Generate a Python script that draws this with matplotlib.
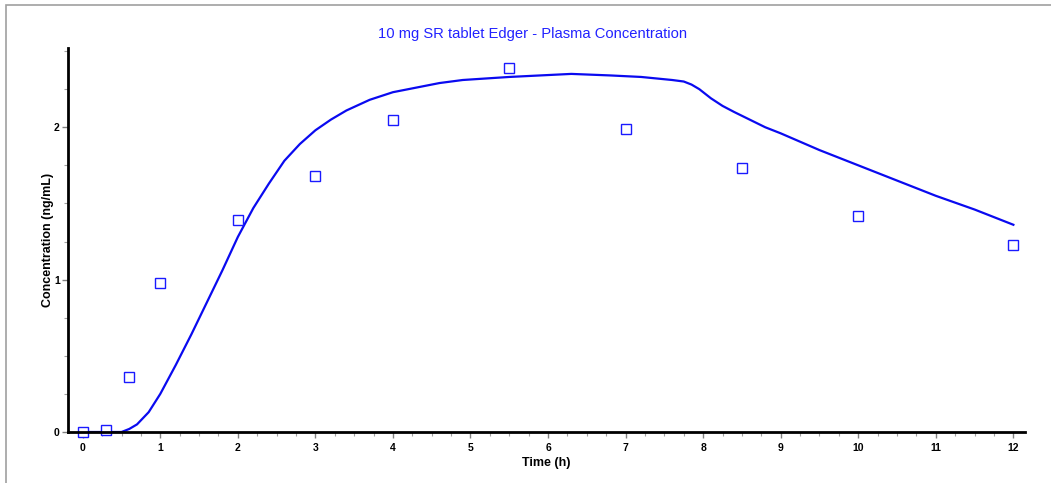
import matplotlib.pyplot as plt
from matplotlib.patches import Rectangle
from matplotlib.ticker import MultipleLocator

plt.rcParams['font.family'] = ['Liberation Sans', 'DejaVu Sans']

# Observed plasma concentrations
obs_time = [0, 0.3, 0.6, 1, 2, 3, 4, 5.5, 7, 8.5, 10, 12]
obs_conc = [0, 0.01, 0.36, 0.98, 1.39, 1.68, 2.05, 2.39, 1.99, 1.73, 1.42, 1.23]

# Simulated profile
sim_time = [0, 0.5, 0.6, 0.7, 0.85, 1.0, 1.2, 1.4, 1.6, 1.8, 2.0, 2.2, 2.4, 2.6,
            2.8, 3.0, 3.2, 3.4, 3.7, 4.0, 4.3, 4.6, 4.9, 5.2, 5.5, 5.9, 6.3, 6.8,
            7.2, 7.6, 7.75, 7.85, 7.95, 8.1, 8.25, 8.4, 8.6, 8.8, 9.0, 9.5, 10.0,
            10.5, 11.0, 11.5, 12.0]
sim_conc = [0, 0, 0.02, 0.05, 0.13, 0.25, 0.44, 0.64, 0.85, 1.06, 1.28, 1.47, 1.63, 1.78,
            1.89, 1.98, 2.05, 2.11, 2.18, 2.23, 2.26, 2.29, 2.31, 2.32, 2.33, 2.34, 2.35, 2.34,
            2.33, 2.31, 2.30, 2.28, 2.25, 2.19, 2.14, 2.10, 2.05, 2.00, 1.96, 1.85, 1.75,
            1.65, 1.55, 1.46, 1.36]

fig = plt.figure(figsize=(10.51, 4.83), dpi=100)
fig.patches.append(Rectangle((6 / 1051, -0.05), 1.1, 1 - 5 / 483 + 0.05,
                             transform=fig.transFigure, fill=False,
                             edgecolor='#a0a0a0', linewidth=1.2))

ax = fig.add_axes([68 / 1051, 1 - 432 / 483, (1025 - 68) / 1051, (432 - 48) / 483])
ax.plot(sim_time, sim_conc, color='#0a0af0', linewidth=1.6)
ax.plot(obs_time, obs_conc, linestyle='none', marker='s', markersize=7,
        markerfacecolor='white', markeredgecolor='#1a1aff', markeredgewidth=1.0,
        clip_on=False)

ax.set_xlim(-0.19, 12.15)
ax.set_ylim(0, 2.52)
ax.xaxis.set_major_locator(MultipleLocator(1))
ax.xaxis.set_minor_locator(MultipleLocator(0.25))
ax.yaxis.set_major_locator(MultipleLocator(1))
ax.yaxis.set_minor_locator(MultipleLocator(0.25))

for side in ['top', 'right']:
    ax.spines[side].set_visible(False)
for side in ['left', 'bottom']:
    ax.spines[side].set_linewidth(2)

ax.tick_params(which='major', length=4, width=1, color='#808080', labelsize=7.5)
ax.tick_params(which='minor', length=3, width=0.8, color='#a0a0a0')
ax.tick_params(axis='x', which='major', pad=4)
ax.tick_params(axis='y', which='major', pad=2)
for lbl in ax.get_xticklabels() + ax.get_yticklabels():
    lbl.set_fontweight('bold')

ax.set_xlabel('Time (h)', fontsize=9, fontweight='bold', labelpad=3)
ax.set_ylabel('Concentration (ng/mL)', fontsize=9, fontweight='bold', labelpad=0)

fig.text(533 / 1051, 1 - 34 / 483, '10 mg SR tablet Edger - Plasma Concentration',
         ha='center', va='center', fontsize=10.6, color='#2222ff')

plt.savefig('out.png', dpi=100)
